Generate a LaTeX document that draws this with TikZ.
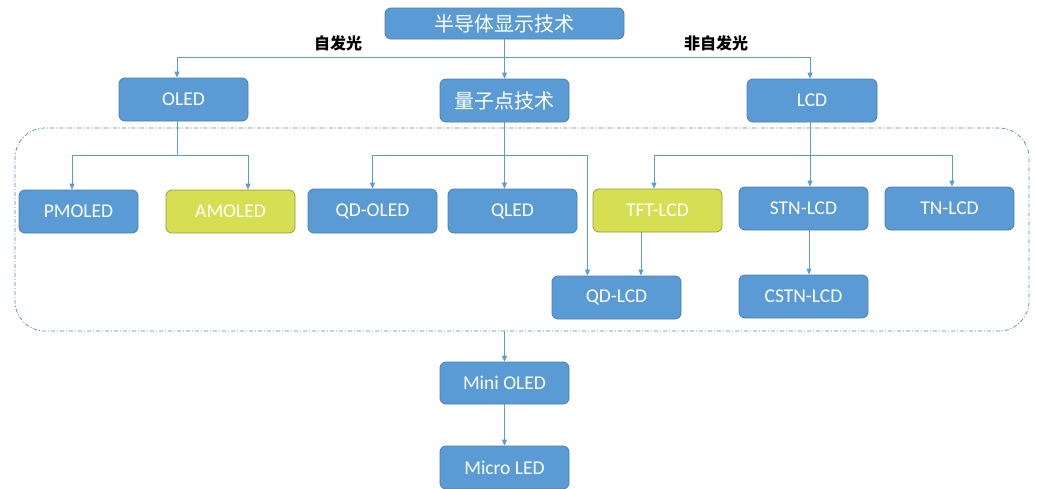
\documentclass[tikz,border=0pt]{standalone}
\usepackage{fontspec}
\setmainfont{Carlito}
\newfontfamily\cjk{Noto Sans CJK SC}
\usetikzlibrary{arrows.meta}
\definecolor{boxblue}{HTML}{5B9BD5}
\definecolor{boxedge}{HTML}{4A7EB0}
\definecolor{boxyel}{HTML}{D6DF52}
\definecolor{lineblue}{HTML}{5B9BD5}
\definecolor{grpblue}{HTML}{4F86BA}
\tikzset{
  box/.style={draw=boxedge, line width=0.8pt, fill=boxblue, rounded corners=6pt,
    minimum width=129pt, minimum height=43pt, inner sep=0pt, text=white,
    font=\fontsize{19.5}{22}\selectfont},
  ybox/.style={box, fill=boxyel, draw=boxyel!70!black},
  lbl/.style={inner sep=0pt, text=black, font=\cjk\bfseries\fontsize{16}{18}\selectfont},
  arr/.style={draw=lineblue, line width=0.9pt, -{Triangle[length=6pt,width=5pt]}},
  ln/.style={draw=lineblue, line width=0.9pt},
  grp/.style={draw=grpblue, line width=0.7pt, rounded corners=30pt,
    dash pattern=on 4pt off 2pt on 1pt off 2pt}
}
\begin{document}
\begin{tikzpicture}[x=1pt,y=-1pt]
\useasboundingbox (0,0) rectangle (1037,488);
\node[grp, minimum width=1014pt, minimum height=203pt] (grp) at (522,229.5) {};
\node[box, minimum width=239pt, minimum height=31pt, font=\cjk\fontsize{20}{22}\selectfont] (top) at (504.5,23.5) {半导体显示技术};
\node[box] (oled) at (183.5,99.5) {OLED};
\node[box, font=\cjk\fontsize{20}{22}\selectfont] (qdt) at (504.5,100.5) {量子点技术};
\node[box, minimum width=130pt] (lcd) at (812,100.5) {LCD};
\node[box, minimum width=119pt] (pmoled) at (78.5,211.5) {PMOLED};
\node[ybox] (amoled) at (230.5,211.5) {AMOLED};
\node[box, minimum height=44pt] (qdoled) at (372.5,211) {QD-OLED};
\node[box, minimum height=44pt] (qled) at (512.5,211) {QLED};
\node[ybox] (tft) at (657.5,210.5) {TFT-LCD};
\node[box] (stn) at (803.5,208.5) {STN-LCD};
\node[box] (tn) at (949.5,208.5) {TN-LCD};
\node[box] (qdlcd) at (616.5,297.5) {QD-LCD};
\node[box] (cstn) at (803.5,296.5) {CSTN-LCD};
\node[box, minimum height=42pt] (mini) at (504.5,383) {Mini OLED};
\node[box] (micro) at (504.5,467.5) {Micro LED};
\node[lbl] (l1) at (338,43) {自发光};
\node[lbl] (l2) at (716,43) {非自发光};
% top level
\draw[arr] (top.south) -- (qdt.north);
\coordinate (j1) at (504.5,57);
\draw[arr] (j1) -| ([xshift=-6.5pt]oled.north);
\draw[arr] (j1) -| ([xshift=-2pt]lcd.north);
% OLED
\coordinate (j2) at (177,155);
\draw[ln] ([xshift=-6.5pt]oled.south) -- (j2);
\draw[arr] (j2) -| ([xshift=-6.5pt]pmoled.north);
\draw[arr] (j2) -| ([xshift=17.5pt]amoled.north);
% QD
\coordinate (j3) at (504.5,155);
\draw[arr] (qdt.south) -- ([xshift=-8pt]qled.north);
\draw[arr] (j3) -| (qdoled.north);
\draw[arr] (j3) -| ([xshift=-29pt]qdlcd.north);
% LCD
\coordinate (j4) at (810,155);
\draw[ln] ([xshift=-2pt]lcd.south) -- (j4);
\draw[arr] (j4) -| ([xshift=-3.5pt]tft.north);
\draw[arr] (j4) -- ([xshift=6.5pt]stn.north);
\draw[arr] (j4) -| ([xshift=2.5pt]tn.north);
\draw[arr] ([xshift=-16.5pt]tft.south) -- ([xshift=24.5pt]qdlcd.north);
\draw[arr] ([xshift=5.5pt]stn.south) -- ([xshift=5.5pt]cstn.north);
% bottom
\draw[arr] (grp.south -| mini.north) -- (mini.north);
\draw[arr] (mini.south) -- (micro.north);
\end{tikzpicture}
\end{document}
